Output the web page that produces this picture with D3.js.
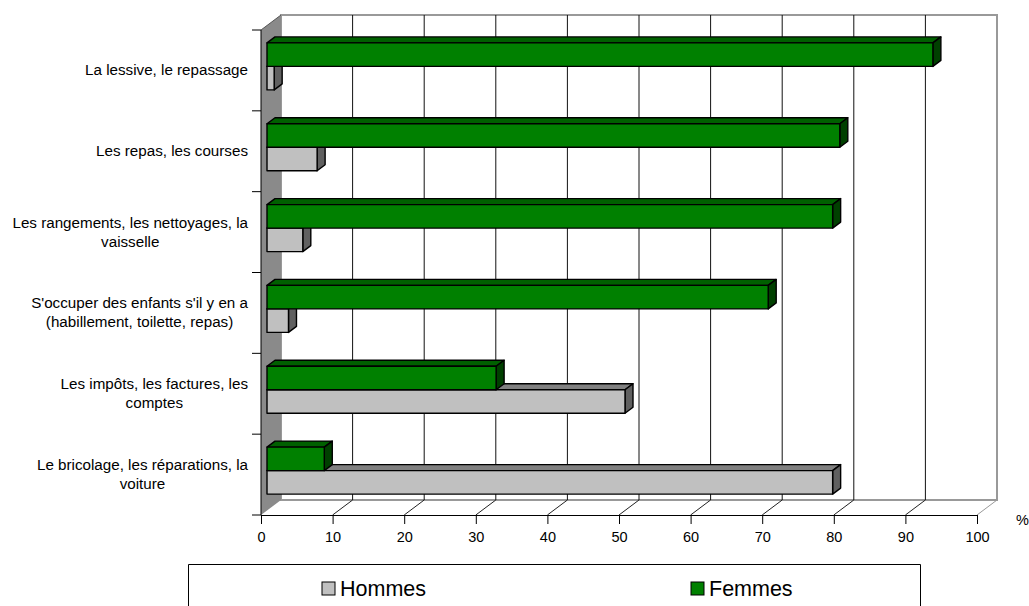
<!DOCTYPE html>
<html>
<head lang="fr">
	<meta charset="UTF-8">
	<title>Taches menageres</title>
	<style>
	html, body { margin: 0; padding: 0; background: #fff; overflow: hidden; }
	text { font-family: "Liberation Sans", Arial, sans-serif; fill: #000; }
	.tick text { font-size: 14.5px; }
	.cat { font-size: 15.2px; }
	.leg { font-size: 21.5px; }
	</style>
	<script src="https://cdn.jsdelivr.net/npm/d3@7/dist/d3.min.js"></script>
</head>
<body>
<script>
	var categories = [
		["La lessive, le repassage"],
		["Les repas, les courses"],
		["Les rangements, les nettoyages, la", "vaisselle"],
		["S'occuper des enfants s'il y en a", "(habillement, toilette, repas)"],
		["Les impôts, les factures, les", "comptes"],
		["Le bricolage, les réparations, la", "voiture"]
	];
	var hommes = [1, 7, 5, 3, 50, 79];
	var femmes = [93, 80, 79, 70, 32, 8];
	var xTicks = [0, 10, 20, 30, 40, 50, 60, 70, 80, 90, 100];
	var seriesNames = ["Hommes", "Femmes"];

	var width = 1029, height = 606;
	var depthX = 20, depthY = 15;       // depth of the whole box
	var plotLeft = 261, plotRight = 977, plotTop = 30, plotBottom = 515;
	var barShiftX = 6, barShiftY = 4;   // bars sit a little inside the box
	var barDX = 8, barDY = 6;           // depth of one bar
	var barH = 23.5;

	var x = d3.scaleLinear().domain([0, 100]).range([plotLeft, plotRight]);
	var y = d3.scaleBand().domain(d3.range(categories.length)).range([plotTop, plotBottom]);

	var svg = d3.select("body").append("svg")
		.attr("width", width)
		.attr("height", height)
		.style("display", "block");

	function pts(a) { return a.map(function(p){ return p.join(","); }).join(" "); }

	// back wall
	svg.append("rect")
		.attr("x", plotLeft + depthX).attr("y", plotTop - depthY)
		.attr("width", plotRight - plotLeft).attr("height", plotBottom - plotTop)
		.attr("fill", "#fff").attr("stroke", "#999").attr("stroke-width", 2);

	// left wall
	svg.append("polygon")
		.attr("points", pts([[plotLeft, plotTop], [plotLeft + depthX, plotTop - depthY],
			[plotLeft + depthX, plotBottom - depthY], [plotLeft, plotBottom]]))
		.attr("fill", "#8a8a8a");
	svg.append("line")
		.attr("x1", plotLeft).attr("y1", plotTop)
		.attr("x2", plotLeft + depthX).attr("y2", plotTop - depthY)
		.attr("stroke", "#555");

	// grid on the back wall + lines on the floor
	var inner = xTicks.slice(1);
	svg.selectAll(".grid").data(inner.slice(0, -1)).enter().append("line")
		.attr("class", "grid")
		.attr("x1", function(d){ return x(d) + depthX; })
		.attr("x2", function(d){ return x(d) + depthX; })
		.attr("y1", plotTop - depthY)
		.attr("y2", plotBottom - depthY)
		.attr("stroke", "#111");
	svg.selectAll(".floor").data(inner).enter().append("line")
		.attr("class", "floor")
		.attr("x1", function(d){ return x(d); })
		.attr("y1", plotBottom)
		.attr("x2", function(d){ return x(d) + depthX; })
		.attr("y2", plotBottom - depthY)
		.attr("stroke", function(d){ return d == 100 ? "#999" : "#222"; });

	// one 3d bar : front, top, side
	function drawBar(v, i, row, front, top, side) {
		var x0 = x(0) + barShiftX;
		var x1 = x(v) + barShiftX;
		var y0 = y(i) + y.bandwidth() / 2 - barShiftY - barH + row * barH;
		var y1 = y0 + barH;
		var g = svg.append("g").attr("stroke", "#000").attr("stroke-width", 1.4).attr("stroke-linejoin", "round");
		g.append("polygon").attr("fill", top)
			.attr("points", pts([[x0, y0], [x0 + barDX, y0 - barDY], [x1 + barDX, y0 - barDY], [x1, y0]]));
		g.append("polygon").attr("fill", side)
			.attr("points", pts([[x1, y0], [x1 + barDX, y0 - barDY], [x1 + barDX, y1 - barDY], [x1, y1]]));
		g.append("rect").attr("fill", front)
			.attr("x", x0).attr("y", y0).attr("width", x1 - x0).attr("height", barH);
	}
	// hommes first, the green one covers its top face
	for (var i = categories.length - 1; i >= 0; i--) {
		drawBar(hommes[i], i, 1, "#c0c0c0", "#808080", "#606060");
		drawBar(femmes[i], i, 0, "#008000", "#006000", "#004000");
	}

	// axes
	var xAxis = svg.append("g")
		.attr("transform", "translate(0," + plotBottom + ")")
		.call(d3.axisBottom(x).tickValues(xTicks).tickSizeInner(9).tickSizeOuter(0).tickPadding(8));
	xAxis.selectAll("path, line").attr("stroke", "#000");
	xAxis.attr("font-size", null).attr("font-family", null);

	var yEdges = d3.range(categories.length + 1).map(function(k){ return plotTop + k * y.step(); });
	svg.selectAll(".ytick").data(yEdges).enter().append("line")
		.attr("class", "ytick")
		.attr("x1", plotLeft - 9).attr("x2", plotLeft)
		.attr("y1", function(d){ return d; }).attr("y2", function(d){ return d; })
		.attr("stroke", "#000");
	svg.append("line")
		.attr("x1", plotLeft).attr("x2", plotLeft)
		.attr("y1", plotTop).attr("y2", plotBottom)
		.attr("stroke", "#000");

	// category labels : block stuck right, lines centred inside it
	categories.forEach(function(lines, i) {
		var t = svg.append("text").attr("class", "cat").attr("text-anchor", "middle");
		var lh = 19;
		lines.forEach(function(s, k) {
			t.append("tspan").text(s)
				.attr("y", y(i) + y.bandwidth() / 2 + 5 + (k - (lines.length - 1) / 2) * lh);
		});
		var w = d3.max(t.selectAll("tspan").nodes(), function(n){ return n.getComputedTextLength(); });
		t.selectAll("tspan").attr("x", 248 - w / 2);
	});

	svg.append("text").attr("x", 1016).attr("y", 525).attr("font-size", 14.5).text("%");

	// legend, cut by the bottom of the picture
	svg.append("path")
		.attr("d", "M188.5,606V564.5H920.5V606")
		.attr("fill", "#fff").attr("stroke", "#000");
	var legX = [322, 691];
	var legColor = ["#c0c0c0", "#008000"];
	seriesNames.forEach(function(s, i) {
		svg.append("rect")
			.attr("x", legX[i]).attr("y", 582).attr("width", 13).attr("height", 13)
			.attr("fill", legColor[i]).attr("stroke", "#000");
		svg.append("text").attr("class", "leg")
			.attr("x", legX[i] + 18).attr("y", 596).text(s);
	});
</script>
</body>
</html>
